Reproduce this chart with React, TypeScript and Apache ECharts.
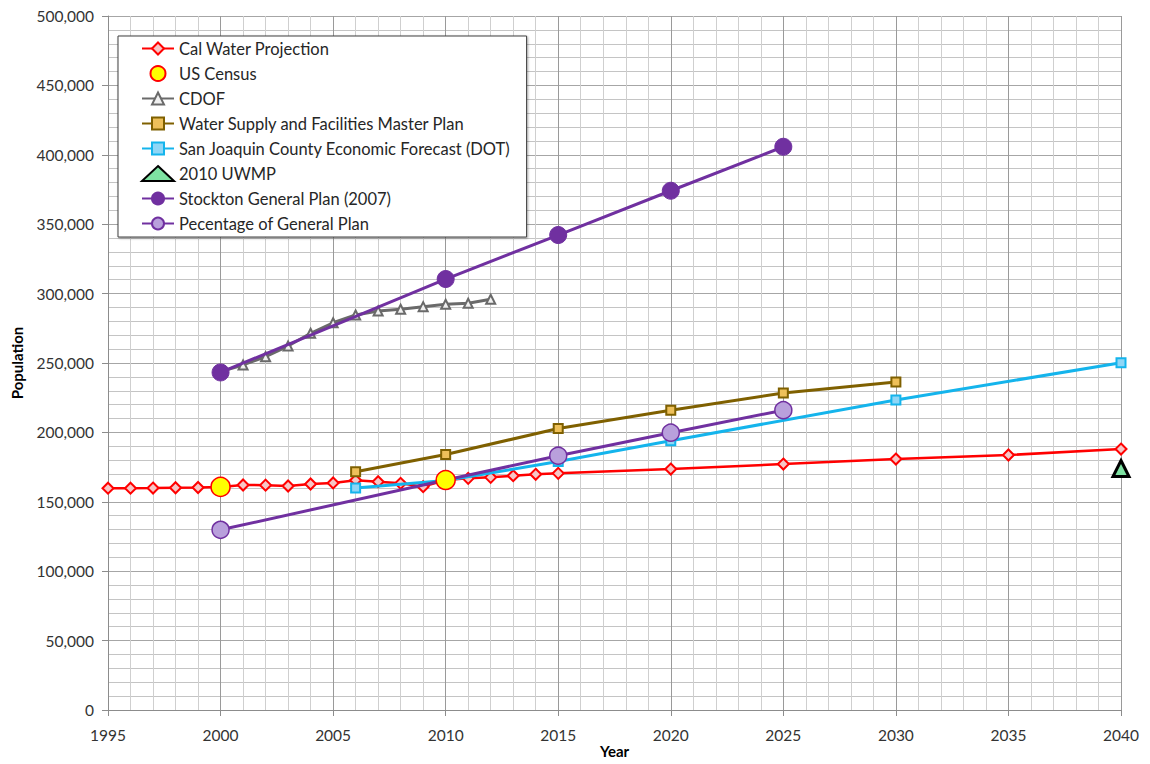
import { useEffect, useRef } from "react";
import * as echarts from "echarts";

// Population projections, by year
const calWaterYears = [1995, 1996, 1997, 1998, 1999, 2000, 2001, 2002, 2003, 2004, 2005, 2006, 2007, 2008, 2009, 2010, 2011, 2012, 2013, 2014, 2015, 2020, 2025, 2030, 2035, 2040];
const calWaterValues = [159800, 159800, 159900, 160100, 160300, 160700, 162100, 162000, 161400, 162800, 163600, 165500, 164500, 163300, 160900, 165700, 166900, 167600, 168800, 169800, 170500, 173600, 177200, 180800, 183700, 188000];

const censusYears = [2000, 2010];
const censusValues = [160700, 165700];

const cdofYears = [2000, 2001, 2002, 2003, 2004, 2005, 2006, 2007, 2008, 2009, 2010, 2011, 2012];
const cdofValues = [243800, 248600, 254500, 262200, 271400, 279000, 284600, 287500, 288700, 290600, 292300, 293000, 295900];

const masterPlanYears = [2006, 2010, 2015, 2020, 2025, 2030];
const masterPlanValues = [171600, 184100, 202800, 216000, 228400, 236300];

const dotYears = [2006, 2010, 2015, 2020, 2030, 2040];
const dotValues = [160000, 165300, 179000, 194000, 223300, 250200];

const uwmpYears = [2040];
const uwmpValues = [174000];

const generalPlanYears = [2000, 2010, 2015, 2020, 2025];
const generalPlanValues = [243200, 310500, 342200, 374100, 405800];

const pctPlanYears = [2000, 2010, 2015, 2020, 2025];
const pctPlanValues = [129800, 165700, 183200, 199800, 216000];

const seriesNames = [
  "Cal Water Projection",
  "US Census",
  "CDOF",
  "Water Supply and Facilities Master Plan",
  "San Joaquin County Economic Forecast (DOT)",
  "2010 UWMP",
  "Stockton General Plan (2007)",
  "Pecentage of General Plan",
];

const FONT = "Lato, 'Liberation Sans', sans-serif";

const pairs = (xs: number[], ys: number[]) => xs.map((x, i) => [x, ys[i]]);

const withCommas = (v: number) => String(v).replace(/\B(?=(\d{3})+(?!\d))/g, ",");

export default function App() {
  const ref = useRef<HTMLDivElement>(null);

  useEffect(() => {
    if (!ref.current) return;
    const chart = echarts.init(ref.current, null, { renderer: "svg" });

    const lineSeries = (
      name: string,
      xs: number[],
      ys: number[],
      color: string,
      width: number,
      symbol: string,
      size: number,
      fill: string,
      border: number,
      z: number
    ) => ({
      name,
      type: "line",
      data: pairs(xs, ys),
      lineStyle: { color, width },
      itemStyle: { color: fill, borderColor: color, borderWidth: border },
      symbol,
      symbolSize: size,
      showAllSymbol: true,
      z,
    });

    chart.setOption({
      animation: false,
      backgroundColor: "#ffffff",
      textStyle: { fontFamily: FONT },
      grid: { left: 108, right: 29, top: 16, bottom: 54, outerBoundsMode: "none", containLabel: false },
      legend: {
        orient: "vertical",
        left: 118,
        top: 36,
        data: seriesNames,
        itemWidth: 32,
        itemHeight: 15,
        itemGap: 8,
        padding: [4, 16, 5, 23],
        backgroundColor: "#ffffff",
        borderColor: "#404040",
        borderWidth: 1,
        shadowColor: "rgba(0,0,0,0.35)",
        shadowBlur: 2,
        shadowOffsetX: 1,
        shadowOffsetY: 1,
        textStyle: { fontFamily: FONT, fontSize: 16.5, lineHeight: 15, color: "#262626" },
      },
      xAxis: {
        type: "value",
        min: 1995,
        max: 2040,
        interval: 5,
        name: "Year",
        nameLocation: "middle",
        nameGap: 33,
        nameMoveOverlap: false,
        nameTextStyle: { fontFamily: FONT, fontSize: 15, fontWeight: "bold", color: "#000" },
        axisLine: { show: true, lineStyle: { color: "#8c8c8c", width: 1 } },
        axisTick: { show: true, length: 6, lineStyle: { color: "#8c8c8c" } },
        axisLabel: { fontFamily: FONT, fontSize: 15.5, color: "#333", margin: 17, formatter: (v: number) => String(v) },
        splitLine: { show: true, lineStyle: { color: "#9a9a9a", width: 1 } },
        minorTick: { show: false, splitNumber: 5 },
        minorSplitLine: { show: true, lineStyle: { color: "#cfcfcf", width: 1 } },
      },
      yAxis: {
        type: "value",
        min: 0,
        max: 500000,
        interval: 50000,
        name: "Population",
        nameLocation: "middle",
        nameGap: 84,
        nameMoveOverlap: false,
        nameTextStyle: { fontFamily: FONT, fontSize: 15, fontWeight: "bold", color: "#000" },
        axisLine: { show: true, lineStyle: { color: "#8c8c8c", width: 1 } },
        axisTick: { show: true, length: 6, lineStyle: { color: "#8c8c8c" } },
        axisLabel: { fontFamily: FONT, fontSize: 15.5, color: "#333", margin: 14, formatter: withCommas },
        splitLine: { show: true, lineStyle: { color: "#a6a6a6", width: 1 } },
        minorTick: { show: false, splitNumber: 5 },
        minorSplitLine: { show: true, lineStyle: { color: "#c4c4c4", width: 1 } },
      },
      series: [
        lineSeries(seriesNames[0], calWaterYears, calWaterValues, "#ff0000", 2.5, "diamond", 11, "#f7c6c6", 2, 3),
        {
          name: seriesNames[1],
          type: "scatter",
          data: pairs(censusYears, censusValues),
          symbol: "circle",
          symbolSize: 19,
          itemStyle: { color: "#ffff00", borderColor: "#ff0000", borderWidth: 1.5, opacity: 1 },
          z: 10,
        },
        lineSeries(seriesNames[2], cdofYears, cdofValues, "#6a6a6a", 3, "triangle", 9, "#f0f0f0", 2, 4),
        lineSeries(seriesNames[3], masterPlanYears, masterPlanValues, "#7f6000", 3, "rect", 9, "#eec05a", 2, 4),
        lineSeries(seriesNames[4], dotYears, dotValues, "#14b4ec", 3, "rect", 9, "#8fd6f6", 2, 4),
        {
          name: seriesNames[5],
          type: "scatter",
          data: pairs(uwmpYears, uwmpValues),
          symbol: "triangle",
          symbolSize: 16,
          itemStyle: { color: "#7ee2a2", borderColor: "#000000", borderWidth: 3, opacity: 1 },
          z: 10,
        },
        lineSeries(seriesNames[6], generalPlanYears, generalPlanValues, "#7030a0", 3, "circle", 17, "#7030a0", 1, 5),
        lineSeries(seriesNames[7], pctPlanYears, pctPlanValues, "#7030a0", 3, "circle", 17, "#b9a0dc", 1.5, 6),
      ],
    });

    return () => chart.dispose();
  }, []);

  return (
    <div
      ref={ref}
      style={{ position: "fixed", left: 0, top: 0, width: 1150, height: 764, background: "#fff" }}
    />
  );
}
